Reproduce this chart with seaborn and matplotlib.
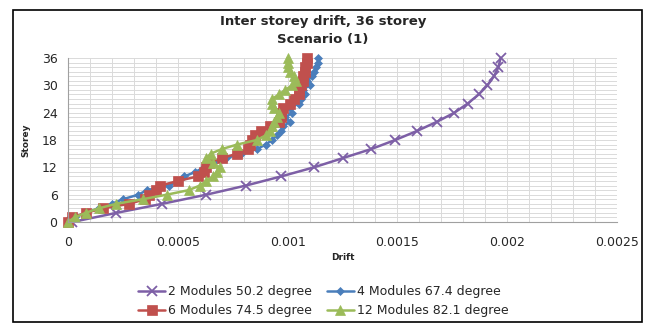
import numpy as np
import pandas as pd
import matplotlib
matplotlib.use("Agg")
import matplotlib.pyplot as plt
import seaborn as sns
from matplotlib.patches import Rectangle

sns.set_style("white")
plt.rcParams["font.family"] = ["DejaVu Sans"]

# storey levels
storey_full = list(range(0, 37))
storey_half = list(range(0, 37, 2))

# drift values
drift_2mod = [0.00002, 0.00022, 0.00043, 0.00063, 0.00081, 0.00097, 0.00112,
              0.00125, 0.00138, 0.00149, 0.00159, 0.00168, 0.00176, 0.00182,
              0.00187, 0.00191, 0.00194, 0.00196, 0.00197]
drift_4mod = [0, 0.00003, 0.00008, 0.00014, 0.0002, 0.00025, 0.00032, 0.00036,
              0.00046, 0.0005, 0.00053, 0.00058, 0.00062, 0.00066, 0.00072,
              0.00079, 0.00086, 0.0009, 0.00093, 0.00095, 0.00097, 0.00098,
              0.00101, 0.00099, 0.00102, 0.00101, 0.00105, 0.00106, 0.00108,
              0.00107, 0.0011, 0.00109, 0.00111, 0.00112, 0.00113, 0.00114,
              0.00114]
drift_6mod = [0, 0.00002, 0.00008, 0.00016, 0.00028, 0.00035, 0.00037, 0.0004,
              0.00042, 0.0005, 0.00059, 0.00062, 0.00063, 0.00064, 0.0007,
              0.00077, 0.00082, 0.00083, 0.00084, 0.00085, 0.00088, 0.00092,
              0.00096, 0.00097, 0.00097, 0.00098, 0.00101, 0.00103, 0.00105,
              0.00105, 0.00106, 0.00107, 0.00107, 0.00108, 0.00108, 0.00109,
              0.00109]
drift_12mod = [0, 0.00003, 0.00008, 0.00014, 0.00022, 0.00034, 0.00045, 0.00055,
               0.0006, 0.00063, 0.00066, 0.00068, 0.00069, 0.00066, 0.00063,
               0.00065, 0.0007, 0.00077, 0.00086, 0.0009, 0.00092, 0.00093,
               0.00094, 0.00095, 0.00096, 0.00094, 0.00093, 0.00093, 0.00096,
               0.00099, 0.00102, 0.00104, 0.00103, 0.00101, 0.001, 0.001, 0.001]

labels = ["2 Modules 50.2 degree", "4 Modules 67.4 degree",
          "6 Modules 74.5 degree", "12 Modules 82.1 degree"]
colors = ["#7D5FA6", "#4A7EBB", "#C0504D", "#9BBB59"]

fig = plt.figure(figsize=(6.46, 3.24), dpi=100)
ax = fig.add_axes([68 / 646, 1 - 222 / 324, 549 / 646, 164 / 324])

series = [
    (drift_2mod, storey_half, "x", 6.5, labels[0], colors[0]),
    (drift_4mod, storey_full, "D", 4.5, labels[1], colors[1]),
    (drift_6mod, storey_full, "s", 7.5, labels[2], colors[2]),
    (drift_12mod, storey_full, "^", 7, labels[3], colors[3]),
]
for x, y, mk, ms, lab, col in series:
    sns.lineplot(x=x, y=y, ax=ax, sort=False, estimator=None, color=col,
                 marker=mk, markersize=ms, markeredgecolor=col,
                 markeredgewidth=1.3 if mk == "x" else 0.5,
                 linewidth=1.8, label=lab, clip_on=False)

ax.set_xlim(0, 0.0025)
ax.set_ylim(0, 36)
ax.set_xticks([0, 0.0005, 0.001, 0.0015, 0.002, 0.0025])
ax.set_xticklabels(["0", "0.0005", "0.001", "0.0015", "0.002", "0.0025"])
ax.set_yticks(range(0, 37, 6))
ax.set_xticks(np.arange(0, 0.00251, 0.0001), minor=True)
ax.set_yticks(range(0, 37), minor=True)
ax.grid(which="both", color="#DADADA", linewidth=0.7)
ax.set_axisbelow(True)
ax.tick_params(axis="both", which="major", labelsize=9, length=4,
               color="#A0A0A0", direction="out")
ax.tick_params(axis="both", which="minor", length=0)
ax.tick_params(axis="x", pad=6)
for s in ["top", "right"]:
    ax.spines[s].set_visible(False)
for s in ["left", "bottom"]:
    ax.spines[s].set_color("#A0A0A0")
    ax.spines[s].set_linewidth(0.8)

ax.set_xlabel("Drift", fontsize=6.5, fontweight="bold", labelpad=3)
ax.set_ylabel("Storey", fontsize=6.5, fontweight="bold", labelpad=8)

fig.text(0.5, 1 - 21 / 324, "Inter storey drift, 36 storey", ha="center",
         va="center", fontsize=9.5, fontweight="bold")
fig.text(0.5, 1 - 40 / 324, "Scenario (1)", ha="center", va="center",
         fontsize=9.5, fontweight="bold")

h, l = ax.get_legend_handles_labels()
order = [0, 2, 1, 3]
ax.legend([h[i] for i in order], [l[i] for i in order], ncol=2,
          loc="center", bbox_to_anchor=(0.5, 1 - 301 / 324),
          bbox_transform=fig.transFigure, frameon=False, fontsize=9,
          handlelength=2.2, handletextpad=0.2, columnspacing=1.2,
          labelspacing=0.5)

fig.patches.append(Rectangle((13 / 646, 2 / 324), 629 / 646, 312 / 324,
                             transform=fig.transFigure, fill=False,
                             edgecolor="black", linewidth=1.2))

fig.savefig("out.png", dpi=100)
